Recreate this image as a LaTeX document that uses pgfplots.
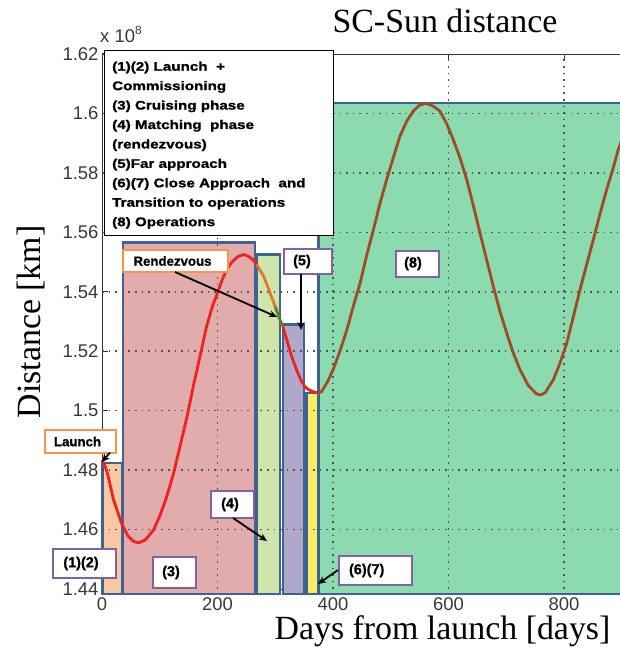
\documentclass[border=0pt]{standalone}
\usepackage{pgfplots}
\pgfplotsset{compat=1.18}
\usepackage{fontspec}
\setmainfont{Liberation Serif}
\newfontfamily\arialf{Liberation Sans}
\newfontfamily\legf[FakeStretch=1.22,FakeBold=1.2]{Liberation Sans}
\newfontfamily\labf[FakeBold=0.8]{Liberation Sans}
\usetikzlibrary{arrows.meta}

\definecolor{cOr}{RGB}{248,200,165}
\definecolor{cRd}{RGB}{226,172,172}
\definecolor{cLg}{RGB}{206,230,170}
\definecolor{cPu}{RGB}{176,168,202}
\definecolor{cYe}{RGB}{246,238,100}
\definecolor{cGr}{RGB}{140,218,176}
\definecolor{cBd}{RGB}{62,98,148}
\definecolor{bOr}{RGB}{247,150,70}
\definecolor{bPu}{RGB}{128,100,162}
\definecolor{lRd}{RGB}{238,34,30}
\definecolor{lOr}{RGB}{226,118,48}
\definecolor{lGn}{RGB}{96,130,44}
\definecolor{lBr}{RGB}{158,76,36}

\newcommand\ticklab{\arialf\fontsize{18.5}{20}\selectfont}

\begin{document}
\begin{tikzpicture}
\begin{axis}[
  at={(102bp,68bp)}, anchor=south west,
  scale only axis, width=577.5bp, height=535bp,
  xmin=0, xmax=1000, ymin=1.44, ymax=1.62,
  clip=false,
  axis x line*=box, axis y line*=left,
  xtick={0,200,400,600,800},
  ytick={1.44,1.46,1.48,1.5,1.52,1.54,1.56,1.58,1.6,1.62},
  yticklabels={1.44,1.46,1.48,1.5,1.52,1.54,1.56,1.58,1.6,1.62},
  /pgf/number format/assume math mode=true,
  tick label style={font=\ticklab, text=black!78},
  xticklabel style={yshift=-5bp},
  major tick length=6bp,
  tick style={line width=1bp, black!80},
  axis line style={line width=0.9bp, black!80},
  rect/.style={draw=cBd, line width=2.6bp},
  gridl/.style={dash pattern=on 1.6bp off 5bp, line width=1.6bp, black!68},
]
% phase rectangles
\addplot[rect, fill=cOr] coordinates {(0.5,1.4383) (0.5,1.4824) (36,1.4824) (36,1.4383)} -- cycle;
\addplot[rect, fill=cRd] coordinates {(36.4,1.4383) (36.4,1.5566) (265,1.5566) (265,1.4383)} -- cycle;
\addplot[rect, fill=cLg] coordinates {(268.4,1.4383) (268.4,1.5525) (308.2,1.5525) (308.2,1.4383)} -- cycle;
\addplot[rect, fill=cPu] coordinates {(313.4,1.4383) (313.4,1.5289) (349.8,1.5289) (349.8,1.4383)} -- cycle;
\addplot[rect, fill=cYe] coordinates {(354,1.4383) (354,1.5060) (374,1.5060) (374,1.4383)} -- cycle;
\addplot[rect, fill=cGr] coordinates {(375,1.4383) (375,1.6035) (1000,1.6035) (1000,1.4383)} -- cycle;
% dotted major grid
\addplot[gridl] coordinates {(200,1.44) (200,1.62)};
\addplot[gridl] coordinates {(400,1.44) (400,1.62)};
\addplot[gridl] coordinates {(600,1.44) (600,1.62)};
\addplot[gridl] coordinates {(800,1.44) (800,1.62)};
\addplot[gridl] coordinates {(0,1.46) (1000,1.46)};
\addplot[gridl] coordinates {(0,1.48) (1000,1.48)};
\addplot[gridl] coordinates {(0,1.50) (1000,1.50)};
\addplot[gridl] coordinates {(0,1.52) (1000,1.52)};
\addplot[gridl] coordinates {(0,1.54) (1000,1.54)};
\addplot[gridl] coordinates {(0,1.56) (1000,1.56)};
\addplot[gridl] coordinates {(0,1.58) (1000,1.58)};
\addplot[gridl] coordinates {(0,1.60) (1000,1.60)};
% distance curve
\addplot[lRd, line width=2.8bp] coordinates {
(0,1.4835) (5,1.4815) (10,1.4785) (20,1.4700) (34,1.4620) (45,1.4578) (55,1.4560)
(63,1.4555) (75,1.4565) (89,1.4598) (100,1.4645) (112,1.4710) (124,1.4790) (135,1.4879)
(147,1.4978) (158,1.5081) (170,1.5185) (181,1.5283) (191,1.5350) (200,1.5396) (208,1.5440)
(216,1.5475) (225,1.5500) (235,1.5518) (245,1.5525) (253,1.5520) (260,1.5510) (268,1.5492)};
\addplot[lOr, line width=2.8bp] coordinates {
(268,1.5492) (280,1.5452) (291,1.5396) (300,1.5350)};
\addplot[lGn, line width=3bp] coordinates {
(300,1.5350) (308,1.5306) (313,1.5285)};
\addplot[lRd, line width=2.8bp] coordinates {
(313,1.5285) (320,1.5238) (328,1.5185) (337,1.5137) (345,1.5100) (351.5,1.5081)
(358,1.5070) (366,1.5064) (375,1.5059)};
\addplot[lBr, line width=2.8bp] coordinates {
(375,1.5059) (380,1.5064) (390,1.5095) (400,1.5137) (412,1.5200) (424,1.5272) (435,1.5350)
(447,1.5430) (458,1.5520) (470,1.5609) (481,1.5695) (493,1.5778) (505,1.5855) (516,1.5924)
(528,1.5975) (539,1.6008) (550,1.6028) (561,1.6034) (573,1.6025) (585,1.6008) (597,1.5965)
(608,1.5913) (620,1.5850) (631.5,1.5778) (643,1.5690) (654.5,1.5598) (666,1.5508)
(677.6,1.5418) (689,1.5335) (700.8,1.5261) (712,1.5195) (724,1.5137) (738,1.5085)
(752.7,1.5056) (760,1.5053) (768,1.5062) (781.5,1.5104) (793,1.5160) (804.7,1.5227)
(816,1.5315) (827.7,1.5407) (839,1.5490) (850.8,1.5575) (862,1.5660) (873.9,1.5744)
(885,1.5815) (894,1.5879) (905,1.5935) (920,1.5990) (935,1.6025)};
\end{axis}

\begin{scope}[x=1bp, y=-1bp, shift={(0,657bp)}]
% axis texts
\node[anchor=base, font=\fontsize{34}{40}\selectfont] at (445,33) {SC-Sun distance};
\node[anchor=base, font=\fontsize{34}{40}\selectfont] at (442.5,640) {Days from launch [days]};
\node[anchor=base, rotate=90, font=\fontsize{34}{40}\selectfont] at (40,322) {Distance [km]};
\node[anchor=base west, inner sep=0pt, text=black!78, font=\ticklab] at (100,43)
  {x 10\raisebox{8bp}{\fontsize{12}{12}\selectfont 8}};
% legend box
\draw[line width=1bp, fill=white] (104,51) rectangle (333,236);
\node[anchor=north west, inner sep=0pt, align=left,
      font=\legf\bfseries\fontsize{12.5}{19.5}\selectfont] at (112,61.5)
  {(1)(2) Launch \ +\\
   Commissioning\\
   (3) Cruising phase\\
   (4) Matching \ phase\\
   (rendezvous)\\
   (5)Far approach\\
   (6)(7) Close Approach \ and\\
   Transition to operations\\
   (8) Operations};
% label boxes
\tikzset{lab/.style={font=\labf\bfseries\fontsize{14.5}{16}\selectfont, inner sep=0pt},
         labs/.style={font=\labf\bfseries\fontsize{13.3}{15}\selectfont, inner sep=0pt}}
\draw[bOr, line width=2.2bp, fill=white] (45,430) rectangle (116,452.7);
\node[labs] at (77.5,441.5) {Launch};
\draw[bOr, line width=2.2bp, fill=white] (123,250) rectangle (228,272);
\node[labs] at (172.5,261) {Rendezvous};
\draw[bPu, line width=2.2bp, fill=white] (284,249) rectangle (332,274);
\node[lab] at (302,261.5) {(5)};
\draw[bPu, line width=2.2bp, fill=white] (396,250.7) rectangle (439,276.7);
\node[lab] at (413,263.7) {(8)};
\draw[bPu, line width=2.2bp, fill=white] (211,491) rectangle (254,518);
\node[lab] at (230,504.5) {(4)};
\draw[bPu, line width=2.2bp, fill=white] (152.7,556.7) rectangle (196,588.3);
\node[lab] at (171,572.5) {(3)};
\draw[bPu, line width=2.2bp, fill=white] (52.7,549) rectangle (115.7,578);
\node[lab] at (81,563.5) {(1)(2)};
\draw[bPu, line width=2.2bp, fill=white] (339,556) rectangle (411.7,585);
\node[lab] at (366.7,570.5) {(6)(7)};
% arrows
\tikzset{arr/.style={-{Stealth[length=8bp,width=7bp]}, line width=1.8bp, black}}
\draw[arr] (175,272) -- (277,317);
\draw[arr] (301,274) -- (301,330);
\draw[arr] (233,518) -- (267,541);
\draw[arr] (338,570) -- (318,584);
\draw[arr] (110,452.5) -- (102,462);
\end{scope}
\pgfresetboundingbox
\useasboundingbox (0,0) rectangle (620bp,657bp);
\end{tikzpicture}
\end{document}
